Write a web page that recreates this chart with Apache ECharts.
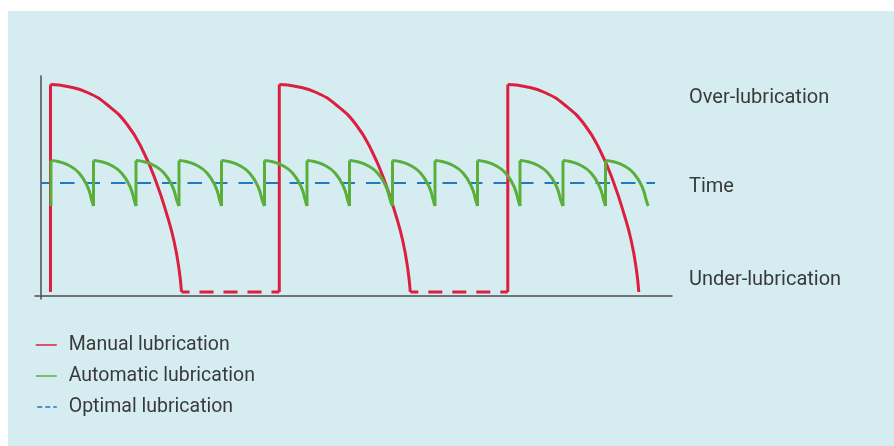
<!DOCTYPE html>
<html>
<head>
<meta charset="utf-8">
<script src="https://cdn.jsdelivr.net/npm/echarts@6/dist/echarts.min.js"></script>
<style>
  html, body { margin: 0; padding: 0; background: #ffffff; }
  #wrap { position: relative; width: 894px; height: 446px; }
  .panel { position: absolute; left: 8px; top: 11px; right: 0; bottom: 0; background: #d5edf1; }
  #chart { position: absolute; left: 0; top: 0; width: 894px; height: 446px; }
</style>
</head>
<body>
<div id="wrap"><div class="panel"></div><div id="chart"></div></div>
<script>
// time runs along x, lubrication level up y (arbitrary units)
const seriesNames = ['Manual lubrication', 'Automatic lubrication', 'Optimal lubrication'];
const levelValues = [198, 109, 16];
const levelLabels = ['Over-lubrication', 'Time', 'Under-lubrication'];

// manual: regrease at these times, level then decays
const manualStarts = [9.5, 238.3, 466.8];
const manualTop = 211.5;
const manualLow = 4;
const manualArcDx = [0, 17, 37, 57, 77, 93, 106, 116.5, 123.5, 128.5, 131];
const manualArcY = [211.5, 209.5, 203.5, 191, 171, 144, 113, 81, 55, 27, 4];
const manualGapFrom = [140.5, 369.3];
const manualGapTo = [238.3, 466.8];

// automatic: small regular doses
const autoStarts = [10, 52.5, 95, 138, 180.5, 223.5, 266, 308.5, 351.5, 394, 436.5, 479, 522, 564.5];
const autoEnd = 607.2;
const autoTop = 135.5;
const autoLow = 90;
const autoArcDx = [0, 8, 18, 28, 36.5, 41];
const autoArcY = [135.5, 134.3, 130.5, 123, 109.5, 95];

// optimal level
const optimalX = [0, 614];
const optimalY = [113, 113];

let manualCurve = [], manualRise = [], manualGap = [];
manualStarts.forEach((x0, i) => {
  manualRise.push([x0, manualLow], [x0, manualTop], [x0, '-']);
  manualArcDx.forEach((dx, k) => manualCurve.push([x0 + dx, manualArcY[k]]));
  manualCurve.push([x0, '-']);
});
manualGapFrom.forEach((x0, i) => {
  manualGap.push([x0, manualLow], [manualGapTo[i], manualLow], [x0, '-']);
});

let autoCurve = [], autoRise = [];
autoStarts.forEach((x0, i) => {
  let x1 = i < autoStarts.length - 1 ? autoStarts[i + 1] : autoEnd;
  autoRise.push([x0, autoLow], [x0, autoTop], [x0, '-']);
  autoArcDx.forEach((dx, k) => autoCurve.push([x0 + dx, autoArcY[k]]));
  autoCurve.push([x1, autoLow], [x1, '-']);
});

let optimalLine = optimalX.map((x, i) => [x, optimalY[i]]);

const red = '#dc1f3e';
const green = '#5aaf3c';
const blue = '#1e78c3';
const textColor = '#3a3a3a';
const font = 'Roboto';

let myChart = echarts.init(document.getElementById('chart'));
let option = {
  animation: false,
  color: [blue, red, green],
  grid: { left: 35, right: 222, top: 76, bottom: 147 },
  legend: {
    orient: 'vertical',
    left: 30,
    top: 330,
    itemWidth: 21,
    itemHeight: 14,
    itemGap: 11,
    selectedMode: false,
    itemStyle: { opacity: 0 },
    lineStyle: { width: 1.5 },
    textStyle: { fontSize: 19.5, color: textColor, fontFamily: font, padding: [0, 0, 0, 7] },
    data: [
      { name: seriesNames[0] },
      { name: seriesNames[1] },
      { name: seriesNames[2], lineStyle: { type: [5, 3], width: 1.5 } }
    ]
  },
  xAxis: {
    type: 'value',
    min: -6,
    max: 631,
    axisLine: { lineStyle: { color: '#4d4d4d', width: 1.5 } },
    axisTick: { show: false },
    axisLabel: { show: false },
    splitLine: { show: false }
  },
  yAxis: [
    {
      type: 'value',
      min: -3,
      max: 220,
      axisLine: { show: true, lineStyle: { color: '#4d4d4d', width: 1.5 } },
      axisTick: { show: false },
      axisLabel: { show: false },
      splitLine: { show: false }
    },
    {
      type: 'value',
      position: 'right',
      min: -3,
      max: 220,
      axisLine: { show: false, onZero: false },
      axisTick: { show: false },
      splitLine: { show: false },
      axisLabel: {
        customValues: levelValues,
        formatter: v => levelLabels[levelValues.indexOf(v)],
        margin: 17,
        fontSize: 20,
        color: textColor,
        fontFamily: font
      }
    }
  ],
  series: [
    {
      name: seriesNames[2], type: 'line', data: optimalLine, symbol: 'none',
      lineStyle: { color: blue, width: 2, type: [14.5, 11], dashOffset: 6.5 }
    },
    {
      name: seriesNames[0], type: 'line', data: manualCurve, symbol: 'none',
      smooth: 0.5,
      lineStyle: { color: red, width: 3 }
    },
    {
      name: seriesNames[0], type: 'line', data: manualRise, symbol: 'none',
      lineStyle: { color: red, width: 3 }
    },
    {
      name: seriesNames[0], type: 'line', data: manualGap, symbol: 'none',
      lineStyle: { color: red, width: 3, type: [14, 10], dashOffset: 6 }
    },
    {
      name: seriesNames[1], type: 'line', data: autoCurve, symbol: 'none',
      smooth: 0.5,
      lineStyle: { color: green, width: 3 }
    },
    {
      name: seriesNames[1], type: 'line', data: autoRise, symbol: 'none',
      lineStyle: { color: green, width: 3 }
    }
  ]
};
option && myChart.setOption(option);
</script>
</body>
</html>
